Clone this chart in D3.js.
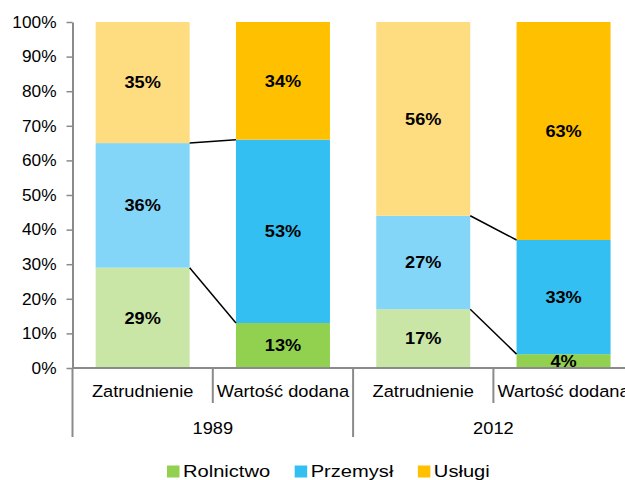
<!DOCTYPE html>
<html>
<head>
<meta charset="utf-8">
<script src="https://cdn.jsdelivr.net/npm/d3@7"></script>
<style>
  html, body { margin: 0; padding: 0; background: #fff; }
  svg { display: block; font-family: "Liberation Sans", Arial, sans-serif; }
</style>
</head>
<body>
<div id="chart"></div>
<script>
const years = ["1989", "2012"];
const measures = ["Zatrudnienie", "Wartość dodana"];
const sectors = ["Rolnictwo", "Przemysł", "Usługi"];
// one value per bar: 1989 Zatrudnienie, 1989 Wartość dodana, 2012 Zatrudnienie, 2012 Wartość dodana
const rolnictwo = [29, 13, 17, 4];
const przemysl = [36, 53, 27, 33];
const uslugi = [35, 34, 56, 63];
const yTicks = [0, 10, 20, 30, 40, 50, 60, 70, 80, 90, 100];

const strongColors = { "Rolnictwo": "#92d050", "Przemysł": "#33bff2", "Usługi": "#ffc000" };
const paleColors = { "Rolnictwo": "#c9e6a7", "Przemysł": "#84d6f8", "Usługi": "#fedc80" };

const width = 625;
const height = 480;
const plot = { left: 72.5, right: 633.7, top: 22, bottom: 368 };
const axisColor = "#8a8a8a";

const bars = [];
years.forEach((year) => {
  measures.forEach((measure) => {
    const i = bars.length;
    bars.push({
      key: `${year}|${measure}`,
      year,
      measure,
      "Rolnictwo": rolnictwo[i],
      "Przemysł": przemysl[i],
      "Usługi": uslugi[i],
    });
  });
});

const x = d3
  .scaleBand()
  .domain(bars.map((d) => d.key))
  .range([plot.left, plot.right])
  .paddingInner(0.33)
  .paddingOuter(0.165);
const y = d3.scaleLinear().domain([0, 100]).range([plot.bottom, plot.top]);
const step = x.step();
const cellLeft = (key) => x(key) - step * x.paddingOuter();

const stacked = d3.stack().keys(sectors)(bars);

const svg = d3
  .select("#chart")
  .append("svg")
  .attr("width", width)
  .attr("height", height)
  .attr("viewBox", `0 0 ${width} ${height}`);

// horizontally stretched text, to match the wide lettering of the original
function stretch(sel, k) {
  sel.each(function () {
    const t = d3.select(this);
    const tx = +t.attr("x") || 0;
    const ty = +t.attr("y") || 0;
    t.attr("x", 0).attr("y", 0).attr("transform", `translate(${tx},${ty}) scale(${k},1)`);
  });
}

// bars
const layers = svg.append("g").selectAll("g").data(stacked).enter().append("g");
layers
  .selectAll("rect")
  .data((layer) => layer.map((seg) => ({ seg, sector: layer.key })))
  .enter()
  .append("rect")
  .attr("x", (d) => x(d.seg.data.key))
  .attr("width", x.bandwidth())
  .attr("y", (d) => y(d.seg[1]))
  .attr("height", (d) => y(d.seg[0]) - y(d.seg[1]))
  .attr("fill", (d) => (d.seg.data.measure === measures[0] ? paleColors[d.sector] : strongColors[d.sector]));

// series lines between the two bars of each year
const connectors = [];
years.forEach((year) => {
  const a = bars.findIndex((b) => b.year === year && b.measure === measures[0]);
  const b = bars.findIndex((b2) => b2.year === year && b2.measure === measures[1]);
  [0, 1].forEach((level) => {
    connectors.push({
      x1: x(bars[a].key) + x.bandwidth(),
      y1: y(stacked[level][a][1]),
      x2: x(bars[b].key),
      y2: y(stacked[level][b][1]),
    });
  });
});
svg
  .append("g")
  .selectAll("line")
  .data(connectors)
  .enter()
  .append("line")
  .attr("x1", (d) => d.x1)
  .attr("y1", (d) => d.y1)
  .attr("x2", (d) => d.x2)
  .attr("y2", (d) => d.y2)
  .attr("stroke", "#000")
  .attr("stroke-width", 1.5);

// value labels
const valueLabels = svg
  .append("g")
  .selectAll("text")
  .data(stacked.flatMap((layer) => layer.map((seg) => seg)))
  .enter()
  .append("text")
  .attr("x", (d) => x(d.data.key) + x.bandwidth() / 2)
  .attr("y", (d) => y((d[0] + d[1]) / 2))
  .attr("text-anchor", "middle")
  .attr("dominant-baseline", "central")
  .attr("font-size", 17.3)
  .attr("font-weight", "bold")
  .attr("fill", "#000")
  .text((d) => `${d[1] - d[0]}%`);
stretch(valueLabels, 1.05);

// y axis
const yAxis = svg
  .append("g")
  .attr("transform", `translate(${plot.left},0)`)
  .call(
    d3
      .axisLeft(y)
      .tickValues(yTicks)
      .tickSize(6)
      .tickSizeOuter(0)
      .tickPadding(10)
      .tickFormat((v) => `${v}%`)
  );
yAxis.select(".domain").attr("stroke", axisColor).attr("stroke-width", 2);
yAxis.selectAll(".tick line").attr("stroke", axisColor).attr("stroke-width", 1.5);
yAxis
  .selectAll(".tick text")
  .attr("font-size", 16.3)
  .attr("font-family", "Liberation Sans, Arial, sans-serif")
  .attr("fill", "#000")
  .attr("dy", null)
  .attr("dominant-baseline", "central");
stretch(yAxis.selectAll(".tick text"), 1.06);

// x axis: base line, separators, two rows of labels
const xAxis = svg.append("g");
xAxis
  .append("line")
  .attr("x1", plot.left)
  .attr("x2", plot.right)
  .attr("y1", plot.bottom)
  .attr("y2", plot.bottom)
  .attr("stroke", axisColor)
  .attr("stroke-width", 2);

const separators = [];
bars.forEach((b, i) => {
  const long = i % measures.length === 0;
  separators.push({ x: cellLeft(b.key), long });
});
separators.push({ x: plot.right, long: true });
xAxis
  .selectAll("line.sep")
  .data(separators)
  .enter()
  .append("line")
  .attr("class", "sep")
  .attr("x1", (d) => d.x)
  .attr("x2", (d) => d.x)
  .attr("y1", plot.bottom)
  .attr("y2", (d) => (d.long ? plot.bottom + 69 : plot.bottom + 35))
  .attr("stroke", axisColor)
  .attr("stroke-width", 2);

const catLabels = xAxis
  .selectAll("text.cat")
  .data(bars)
  .enter()
  .append("text")
  .attr("class", "cat")
  .attr("x", (d) => cellLeft(d.key) + step / 2)
  .attr("y", plot.bottom + 28.5)
  .attr("text-anchor", "middle")
  .attr("font-size", 16.3)
  .attr("fill", "#000")
  .text((d) => d.measure);
stretch(catLabels, 1.12);

const yearLabels = xAxis
  .selectAll("text.year")
  .data(years)
  .enter()
  .append("text")
  .attr("class", "year")
  .attr("x", (year) => {
    const keys = bars.filter((b) => b.year === year).map((b) => b.key);
    return (cellLeft(keys[0]) + cellLeft(keys[keys.length - 1]) + step) / 2;
  })
  .attr("y", plot.bottom + 66)
  .attr("text-anchor", "middle")
  .attr("font-size", 16.3)
  .attr("fill", "#000")
  .text((year) => year);
stretch(yearLabels, 1.12);

// legend
const legend = svg.append("g").attr("transform", "translate(167,477)");
const legendK = 1.17;
let cursor = 0;
sectors.forEach((sector) => {
  const item = legend.append("g").attr("transform", `translate(${cursor},0)`);
  item
    .append("rect")
    .attr("x", 0)
    .attr("y", -11.5)
    .attr("width", 12.5)
    .attr("height", 12)
    .attr("fill", strongColors[sector]);
  const label = item
    .append("text")
    .attr("x", 16)
    .attr("y", 0)
    .attr("font-size", 17.2)
    .attr("fill", "#000")
    .text(sector);
  const w = label.node().getComputedTextLength() * legendK;
  stretch(label, legendK);
  cursor += 16 + w + 24.5;
});
</script>
</body>
</html>
